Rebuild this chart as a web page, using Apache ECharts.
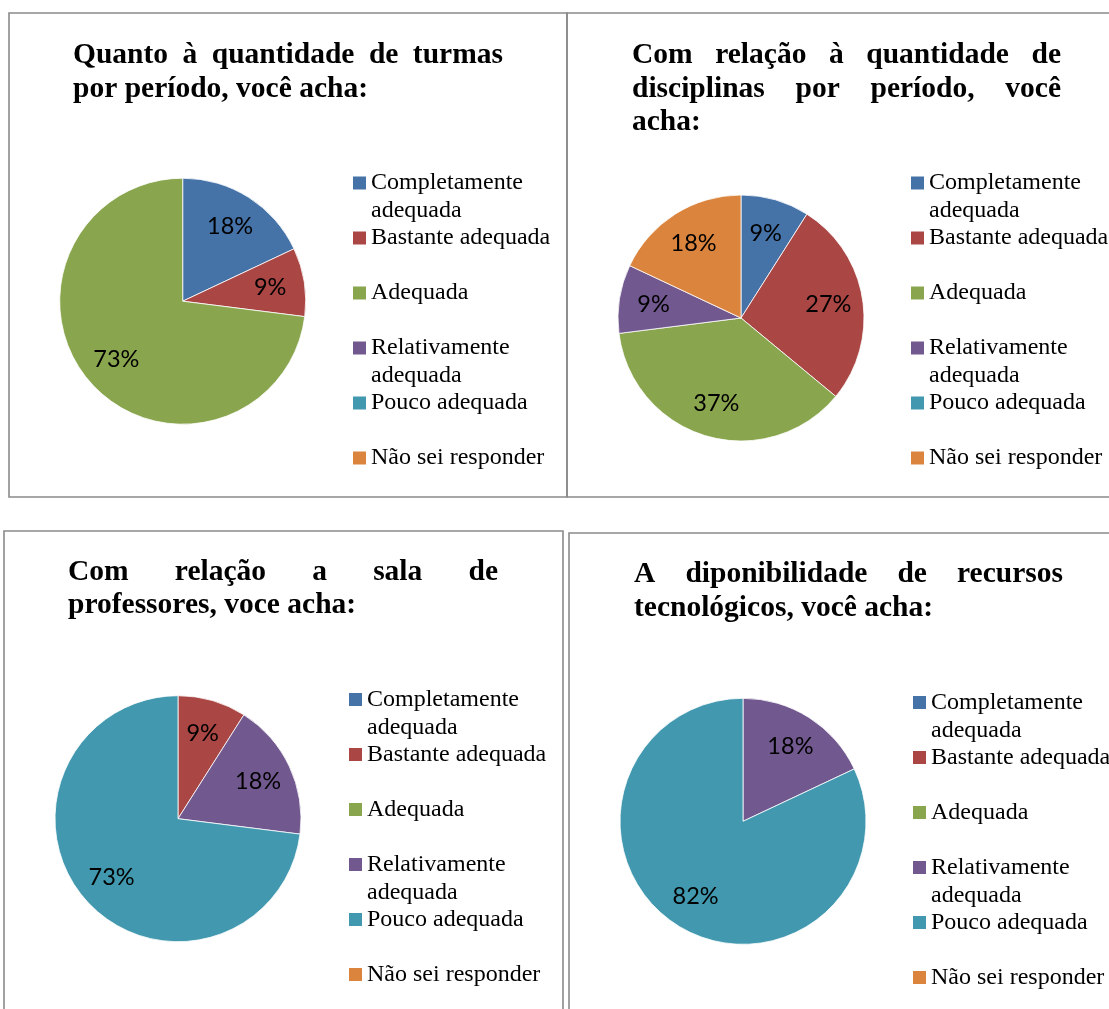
<!DOCTYPE html>
<html>
<head>
<meta charset="utf-8">
<script src="https://cdn.jsdelivr.net/npm/echarts@6/dist/echarts.min.js"></script>
<style>
  html, body { margin: 0; padding: 0; background: #ffffff; }
  #chart { width: 1109px; height: 1009px; }
</style>
</head>
<body>
<div id="chart"></div>
<script>
// Answer categories (shared by all four pies) and their slice colours
const categories = [
  'Completamente\nadequada',
  'Bastante adequada',
  'Adequada',
  'Relativamente\nadequada',
  'Pouco adequada',
  'Não sei responder'
];
const sliceColors = ['#4572A7', '#AA4643', '#89A54E', '#71588F', '#4198AF', '#DB843D'];

// Percentages per question, in category order
const turmasValues      = [18, 9, 73, 0, 0, 0];
const disciplinasValues = [9, 27, 37, 9, 0, 18];
const salaValues        = [0, 9, 0, 18, 73, 0];
const recursosValues    = [0, 0, 0, 18, 82, 0];

// Question titles, one entry per printed line
const titleTurmas      = ['Quanto à quantidade de turmas', 'por período, você acha:'];
const titleDisciplinas = ['Com relação à quantidade de', 'disciplinas por período, você', 'acha:'];
const titleSala        = ['Com relação a sala de', 'professores, voce acha:'];
const titleRecursos    = ['A diponibilidade de recursos', 'tecnológicos, você acha:'];

// Panel layout (frame, title block, pie centre, legend column)
const panels = [
  { title: titleTurmas, values: turmasValues,
    frame: [9, 13, 558, 484], titleX: 73, titleW: 430, titleY: 55.5,
    center: [182.7, 301.2], legendX: 353, legendY: 183 },
  { title: titleDisciplinas, values: disciplinasValues,
    frame: [567, 13, 560, 484], titleX: 632, titleW: 429, titleY: 55.5,
    center: [741, 318], legendX: 911, legendY: 183 },
  { title: titleSala, values: salaValues,
    frame: [4, 531, 559, 520], titleX: 68, titleW: 430, titleY: 572,
    center: [178, 818.7], legendX: 349, legendY: 699.5 },
  { title: titleRecursos, values: recursosValues,
    frame: [569, 533, 560, 520], titleX: 634, titleW: 429, titleY: 574.7,
    center: [743, 821.3], legendX: 913, legendY: 702.5 }
];

const PIE_R = 123;
const LABEL_R0 = 48;           // inner ring used only to place the percentage labels
const TITLE_SIZE = 29.5;
const TITLE_STEP = 33.6;
const TITLE_FONT = 'bold ' + TITLE_SIZE + 'px "Liberation Serif"';
const LEGEND_STEP = 55;
const LEGEND_LINE = 28;

const measureCtx = document.createElement('canvas').getContext('2d');
function textWidth(str, font) {
  measureCtx.font = font;
  return measureCtx.measureText(str).width;
}

function titleText(str, x, y) {
  return {
    type: 'text', x: x, y: y, silent: true, z: 10,
    style: {
      text: str, font: TITLE_FONT, fill: '#000000',
      align: 'left', verticalAlign: 'middle',
      textAlign: 'left', textVerticalAlign: 'middle'
    }
  };
}

// Justified title block: every line but the last is spread to the full width
function titleElements(p) {
  const els = [];
  p.title.forEach(function (line, li) {
    const y = p.titleY + li * TITLE_STEP;
    const words = line.split(' ');
    if (li === p.title.length - 1 || words.length < 2) {
      els.push(titleText(line, p.titleX, y));
      return;
    }
    const widths = words.map(function (w) { return textWidth(w, TITLE_FONT); });
    const total = widths.reduce(function (s, w) { return s + w; }, 0);
    const gap = (p.titleW - total) / (words.length - 1);
    let x = p.titleX;
    words.forEach(function (w, wi) {
      els.push(titleText(w, x, y));
      x += widths[wi] + gap;
    });
  });
  return els;
}

const graphics = [];
const legends = [];
const pieSeries = [];
const labelSeries = [];

panels.forEach(function (p) {
  graphics.push({
    type: 'rect', silent: true, z: 1,
    shape: { x: p.frame[0], y: p.frame[1], width: p.frame[2], height: p.frame[3] },
    style: { fill: 'none', stroke: '#8a8a8a', lineWidth: 1.6 }
  });
  titleElements(p).forEach(function (el) { graphics.push(el); });

  const items = categories.map(function (name, i) {
    return {
      name: name,
      value: p.values[i],
      itemStyle: {
        color: sliceColors[i],
        borderColor: '#ffffff',
        borderWidth: p.values[i] > 0 ? 0.8 : 0
      }
    };
  });

  pieSeries.push({
    type: 'pie',
    center: p.center,
    radius: PIE_R,
    startAngle: 90,
    clockwise: true,
    silent: true,
    label: { show: false },
    labelLine: { show: false },
    data: items
  });

  labelSeries.push({
    type: 'pie',
    center: p.center,
    radius: [LABEL_R0, PIE_R],
    startAngle: 90,
    clockwise: true,
    silent: true,
    itemStyle: { color: 'rgba(0,0,0,0)', borderWidth: 0 },
    label: {
      show: true,
      position: 'inside',
      formatter: function (d) { return d.value > 0 ? d.value + '%' : ''; },
      fontFamily: 'Lato',
      fontSize: 23.5,
      color: '#000000'
    },
    labelLine: { show: false },
    data: categories.map(function (name, i) { return { name: name, value: p.values[i] }; })
  });

  // One legend entry per row; a wrapped name gets an empty leading line so the
  // marker (centred on the text block) sits beside its first line
  categories.forEach(function (name, ci) {
    const twoLine = name.indexOf('\n') >= 0;
    const rowY = p.legendY + ci * LEGEND_STEP;
    legends.push({
      orient: 'vertical',
      left: p.legendX,
      top: rowY - (twoLine ? LEGEND_LINE * 1.5 : LEGEND_LINE / 2),
      padding: 0,
      itemWidth: 13,
      itemHeight: 13,
      icon: 'rect',
      selectedMode: false,
      itemStyle: { borderWidth: 0 },
      data: [name],
      formatter: function (n) { return n.indexOf('\n') >= 0 ? ' \n' + n : n; },
      textStyle: {
        fontFamily: 'Liberation Serif',
        fontSize: 24,
        lineHeight: LEGEND_LINE,
        color: '#000000'
      }
    });
  });
});

const chart = echarts.init(document.getElementById('chart'), null, { renderer: 'canvas' });
chart.setOption({
  backgroundColor: '#ffffff',
  animation: false,
  graphic: { elements: graphics },
  legend: legends,
  series: pieSeries.concat(labelSeries)
});
</script>
</body>
</html>
